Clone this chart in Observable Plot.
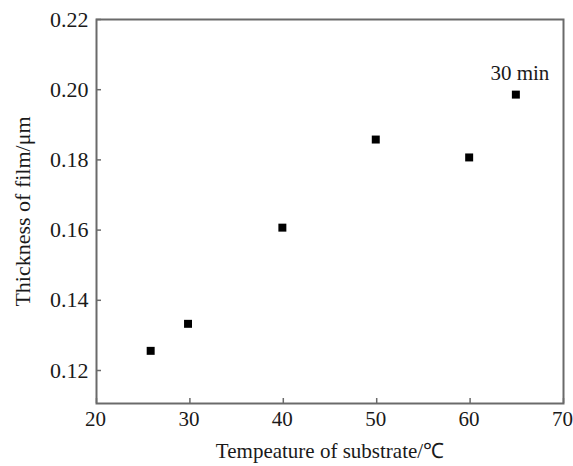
<!DOCTYPE html>
<html>
<head>
<meta charset="utf-8">
<script src="https://cdn.jsdelivr.net/npm/d3@7"></script>
<script src="https://cdn.jsdelivr.net/npm/@observablehq/plot@0.6"></script>
<style>
  html, body { margin: 0; padding: 0; background: #fff; }
  #chart svg { display: block; }
  #chart svg text { font-family: 'Liberation Serif', 'Times New Roman', serif !important; }
</style>
</head>
<body>
<div id="chart"></div>
<script>
const temperature = [25.8, 29.8, 39.9, 49.9, 59.9, 64.9];
const thickness = [0.1256, 0.1333, 0.1607, 0.1858, 0.1807, 0.1986];
const xTicks = [20, 30, 40, 50, 60, 70];
const yTicks = [0.12, 0.14, 0.16, 0.18, 0.20, 0.22];
const annotationText = ["30 min"];
const annotationX = [64.9];
const annotationY = [0.1986];

const points = temperature.map((t, i) => ({t, v: thickness[i]}));
const notes = annotationText.map((s, i) => ({s, x: annotationX[i], y: annotationY[i]}));

const axisColor = "#6a6a6a";
const font = "'Liberation Serif', 'Times New Roman', serif";

const chart = Plot.plot({
  width: 573,
  height: 466,
  marginLeft: 96,
  marginRight: 10,
  marginTop: 19,
  marginBottom: 63,
  style: {fontFamily: font, color: "#1a1a1a", background: "#fff"},
  x: {domain: [20, 70]},
  y: {domain: [0.1106, 0.22]},
  marks: [
    Plot.frame({stroke: axisColor, strokeWidth: 2}),
    Plot.axisX(xTicks, {tickSize: 5, dy: -5, tickFormat: () => "", stroke: axisColor, strokeWidth: 1.5, label: null}),
    Plot.axisY(yTicks, {tickSize: 5, dx: 5, tickFormat: () => "", stroke: axisColor, strokeWidth: 1.5, label: null}),
    Plot.axisX(xTicks, {tickSize: 0, tickPadding: 8, tickFormat: d => String(d), fontSize: 21, fontFamily: font, dx: -1,
      label: "Tempeature of substrate/℃", labelAnchor: "center", labelArrow: "none", labelOffset: 54}),
    Plot.axisY(yTicks, {tickSize: 0, tickPadding: 8, tickFormat: d => d.toFixed(2), fontSize: 22, fontFamily: font,
      label: "Thickness of film/μm", labelAnchor: "center", labelArrow: "none", labelOffset: 82}),
    Plot.dot(points, {x: "t", y: "v", symbol: "square", r: 4.5, fill: "#000", stroke: "none"}),
    Plot.text(notes, {x: "x", y: "y", text: "s", dy: -21, dx: 4, fontSize: 21, fontFamily: font, fill: "#1a1a1a"})
  ]
});
document.getElementById("chart").appendChild(chart);
</script>
</body>
</html>
